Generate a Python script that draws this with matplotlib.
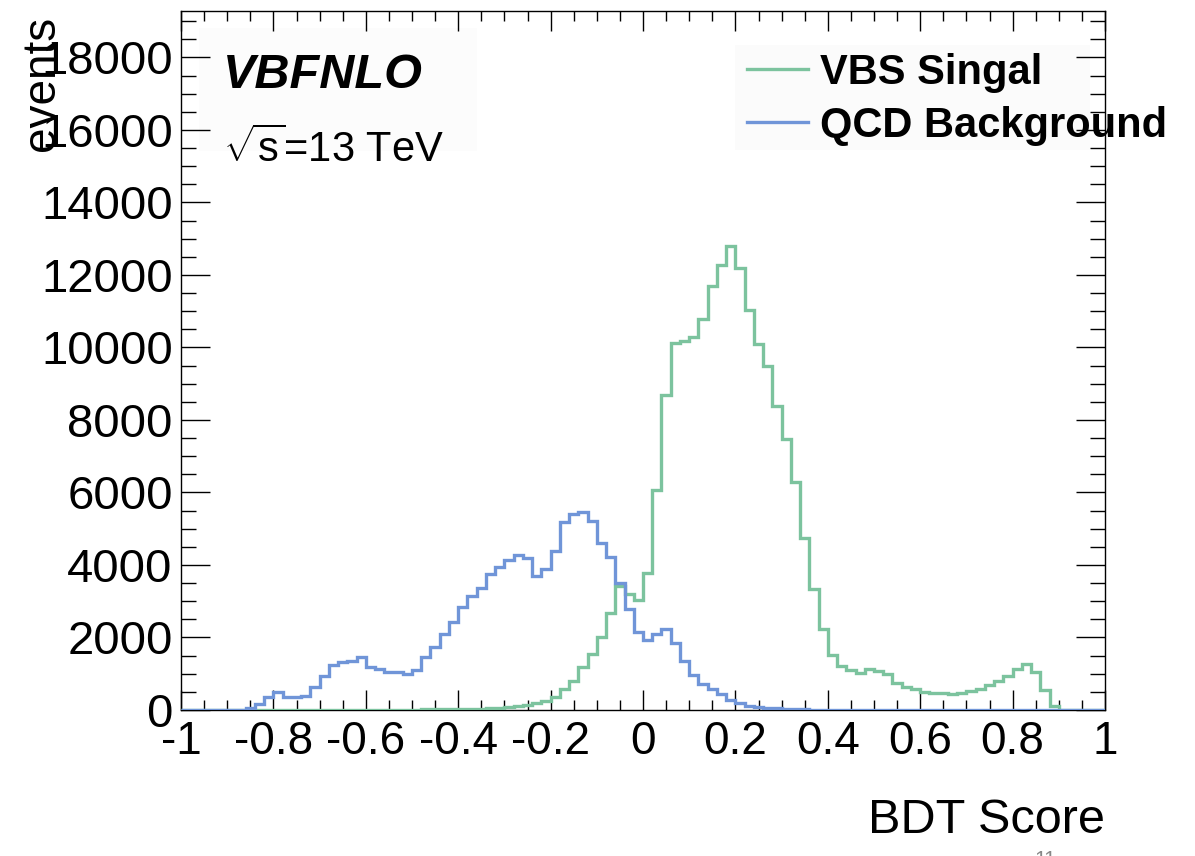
import numpy as np
import matplotlib
matplotlib.use("Agg")
import matplotlib.pyplot as plt
from matplotlib.ticker import MultipleLocator, FixedLocator, FixedFormatter
from matplotlib.patches import Rectangle

plt.rcParams['font.family'] = ['Liberation Sans', 'DejaVu Sans']
plt.rcParams['mathtext.fontset'] = 'custom'
plt.rcParams['mathtext.rm'] = 'Liberation Sans'
plt.rcParams['mathtext.it'] = 'Liberation Sans:italic'

# ---------------- data ----------------
x_min, x_max, n_bins = -1.0, 1.0, 100

qcd_background = [
    0, 0, 0, 0, 0, 0, 0, 50, 165, 368,
    506, 368, 368, 395, 625, 938, 1241, 1315, 1360, 1453,
    1177, 1131, 1057, 1057, 993, 1103, 1453, 1747, 2087, 2418,
    2850, 3153, 3374, 3752, 3954, 4138, 4276, 4184, 3697, 3890,
    4395, 5195, 5407, 5462, 5223, 4616, 4230, 3513, 2777, 2161,
    1920, 2090, 2225, 1839, 1355, 955, 725, 579, 440, 276,
    184, 120, 74, 55, 55, 37, 37, 20, 0, 0,
    0, 0, 0, 0, 0, 0, 0, 0, 0, 0,
    0, 0, 0, 0, 0, 0, 0, 0, 0, 0,
    0, 0, 0, 0, 0, 0, 0, 0, 0, 0,
]

vbs_signal = [
    0, 0, 0, 0, 0, 0, 0, 0, 0, 0,
    0, 0, 0, 0, 0, 0, 0, 0, 0, 0,
    10, 10, 10, 10, 10, 10, 20, 20, 20, 20,
    20, 30, 35, 45, 55, 75, 100, 130, 180, 250,
    360, 579, 800, 1195, 1536, 2023, 2667, 3420, 3200, 3040,
    3770, 6069, 8690, 10117, 10180, 10300, 10777, 11705, 12276, 12800,
    12184, 11034, 10087, 9499, 8386, 7476, 6290, 4736, 3329, 2234,
    1517, 1223, 1103, 1011, 1122, 1075, 984, 753, 625, 579,
    506, 478, 478, 440, 478, 530, 570, 690, 809, 938,
    1130, 1280, 1057, 560, 115, 0, 0, 0, 0, 0,
]

x_ticks = [-1, -0.8, -0.6, -0.4, -0.2, 0, 0.2, 0.4, 0.6, 0.8, 1]
x_tick_labels = ["-1", "-0.8", "-0.6", "-0.4", "-0.2", "0", "0.2", "0.4", "0.6", "0.8", "1"]
y_ticks = [0, 2000, 4000, 6000, 8000, 10000, 12000, 14000, 16000, 18000]
y_tick_labels = [str(v) for v in y_ticks]
series_labels = ["VBS Singal", "QCD Background"]

# ---------------- figure ----------------
W, H = 1195, 856
fig = plt.figure(figsize=(W / 100, H / 100), dpi=100)
ax = fig.add_axes([181 / W, 1 - 710 / H, (1105 - 181) / W, (710 - 11) / H])

edges = np.linspace(x_min, x_max, n_bins + 1)
green = "#7cc39e"
blue = "#7095d8"
ax.stairs(vbs_signal, edges, color=green, lw=2.4, label=series_labels[0], baseline=None, zorder=3)
ax.stairs(qcd_background, edges, color=blue, lw=2.4, label=series_labels[1], baseline=None, zorder=3)
ax.set_xlim(x_min, x_max)
ax.set_ylim(0, 19280)

ax.xaxis.set_major_locator(FixedLocator(x_ticks))
ax.xaxis.set_major_formatter(FixedFormatter(x_tick_labels))
ax.xaxis.set_minor_locator(MultipleLocator(0.05))
ax.yaxis.set_major_locator(FixedLocator(y_ticks))
ax.yaxis.set_major_formatter(FixedFormatter(y_tick_labels))
ax.yaxis.set_minor_locator(MultipleLocator(500))

ax.tick_params(axis='both', which='both', direction='in', top=True, right=True,
               width=1.0, colors='black')
ax.tick_params(axis='x', which='major', length=14.5, pad=7, labelsize=33)
ax.tick_params(axis='x', which='minor', length=7.5)
ax.tick_params(axis='y', which='major', length=21, pad=6, labelsize=34)
ax.tick_params(axis='y', which='minor', length=10.5)
for sp in ax.spines.values():
    sp.set_linewidth(1.0)

ax.set_xlabel("BDT Score", fontsize=35, ha='right', va='center')
ax.xaxis.set_label_coords(1.0, -0.158)
ax.set_ylabel("events", fontsize=33, ha='right', va='center')
ax.yaxis.set_label_coords(-0.150, 0.993)

# faint background boxes (as in the reference)
ax.add_patch(Rectangle((0.02, 0.80), 0.30, 0.175, transform=ax.transAxes,
                       facecolor='#fcfcfc', edgecolor='none', zorder=1))
ax.add_patch(Rectangle((0.60, 0.801), 0.384, 0.15, transform=ax.transAxes,
                       facecolor='#fbfbfb', edgecolor='none', zorder=1))
ax.text(0.045, 0.908, "VBFNLO", transform=ax.transAxes, fontsize=35,
        fontweight='bold', fontstyle='italic', va='center', ha='left', zorder=4)
ax.text(0.045, 0.802, r"$\sqrt{\mathrm{s}}$=13 TeV", transform=ax.transAxes,
        fontsize=30, va='center', ha='left', zorder=4)

leg = ax.legend(loc='upper left', bbox_to_anchor=(0.595, 0.964), frameon=False,
                prop={'weight': 'bold', 'size': 30}, handlelength=1.45,
                handletextpad=0.3, labelspacing=0.31, borderaxespad=0.0,
                borderpad=0.4)
leg.set_zorder(5)
for line in leg.get_lines():
    line.set_linewidth(2.4)

fig.text(1045 / W, -0.004, "11", fontsize=15, color='#888888', ha='center', va='center')

fig.savefig("out.png", dpi=100)
